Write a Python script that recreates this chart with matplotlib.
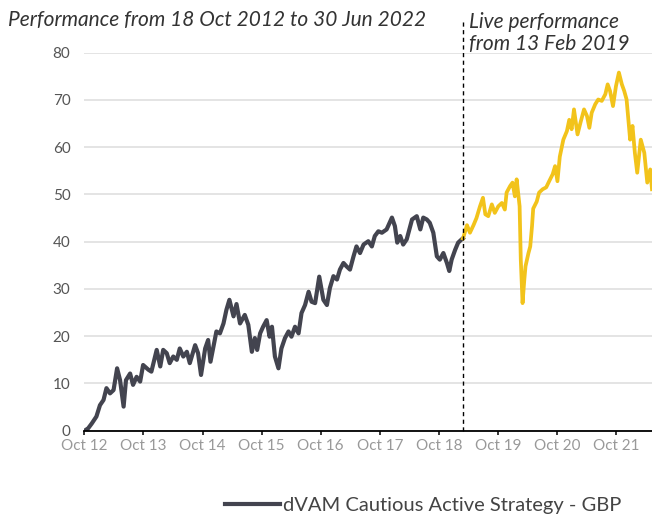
import matplotlib
matplotlib.use('Agg')
import matplotlib.pyplot as plt
from matplotlib.lines import Line2D

# Values (x in decimal years, y = cumulative performance %)
backtest_years = [
    2012.80, 2012.86, 2012.92, 2013.00, 2013.06, 2013.12, 2013.17, 2013.23, 2013.29, 2013.35,
    2013.40, 2013.46, 2013.50, 2013.57, 2013.62, 2013.68, 2013.74, 2013.79, 2013.88, 2013.93,
    2014.02, 2014.08, 2014.13, 2014.19, 2014.24, 2014.30, 2014.36, 2014.41, 2014.47, 2014.53,
    2014.58, 2014.67, 2014.72, 2014.77, 2014.84, 2014.89, 2014.93, 2014.98, 2015.03, 2015.09,
    2015.15, 2015.20, 2015.25, 2015.32, 2015.37, 2015.43, 2015.51, 2015.57, 2015.63, 2015.68,
    2015.72, 2015.77, 2015.82, 2015.88, 2015.93, 2015.97, 2016.02, 2016.08, 2016.13, 2016.19,
    2016.25, 2016.30, 2016.36, 2016.42, 2016.47, 2016.53, 2016.59, 2016.64, 2016.70, 2016.77,
    2016.84, 2016.90, 2016.95, 2017.01, 2017.07, 2017.12, 2017.18, 2017.23, 2017.29, 2017.35,
    2017.40, 2017.46, 2017.52, 2017.60, 2017.66, 2017.71, 2017.77, 2017.83, 2017.91, 2018.00,
    2018.05, 2018.09, 2018.14, 2018.19, 2018.25, 2018.34, 2018.42, 2018.48, 2018.53, 2018.59,
    2018.64, 2018.70, 2018.76, 2018.81, 2018.87, 2018.93, 2018.97, 2019.01, 2019.07, 2019.12,
    2019.18, 2019.20,
]
backtest_values = [
    0.0, 0.5, 1.5, 3.0, 5.4, 6.5, 9.0, 7.9, 8.6, 13.2,
    10.7, 5.1, 10.7, 12.1, 9.7, 11.4, 10.4, 13.9, 12.9, 12.5,
    17.1, 13.6, 17.1, 16.4, 14.3, 15.7, 15.0, 17.4, 15.7, 16.7,
    14.3, 18.1, 16.4, 11.8, 17.4, 19.2, 14.6, 17.8, 21.0, 20.6,
    22.7, 25.6, 27.7, 24.2, 26.8, 22.7, 24.5, 22.4, 16.7, 19.6,
    17.1, 20.6, 22.0, 23.4, 19.9, 22.0, 15.7, 13.2, 17.4, 19.6,
    21.0, 19.9, 22.0, 20.6, 24.9, 26.6, 29.4, 27.3, 27.0, 32.6,
    27.7, 26.6, 30.2, 32.7, 32.0, 34.1, 35.5, 34.8, 34.1, 36.9,
    39.0, 37.6, 39.4, 40.1, 39.0, 41.2, 42.2, 41.9, 42.6, 45.1,
    43.3, 39.8, 41.2, 39.4, 40.5, 44.7, 45.4, 42.6, 45.1, 44.7,
    44.0, 41.9, 36.9, 36.2, 37.6, 35.5, 33.8, 36.2, 38.3, 39.8,
    40.5, 40.7,
]

live_years = [
    2019.20, 2019.21, 2019.27, 2019.32, 2019.38, 2019.43, 2019.49, 2019.54, 2019.58, 2019.63,
    2019.69, 2019.74, 2019.80, 2019.86, 2019.91, 2019.94, 2020.00, 2020.04, 2020.08, 2020.11,
    2020.16, 2020.18, 2020.21, 2020.24, 2020.26, 2020.31, 2020.34, 2020.37, 2020.39, 2020.45,
    2020.49, 2020.55, 2020.61, 2020.66, 2020.72, 2020.76, 2020.80, 2020.84, 2020.90, 2020.96,
    2021.00, 2021.04, 2021.08, 2021.14, 2021.19, 2021.25, 2021.30, 2021.34, 2021.38, 2021.44,
    2021.49, 2021.55, 2021.61, 2021.65, 2021.69, 2021.74, 2021.79, 2021.84, 2021.89, 2021.93,
    2021.97, 2022.03, 2022.07, 2022.11, 2022.15, 2022.21, 2022.27, 2022.32, 2022.37, 2022.40,
]
live_values = [
    40.7, 41.0, 43.5, 41.9, 43.5, 45.0, 47.5, 49.3, 45.8, 45.4,
    47.9, 46.1, 47.5, 48.2, 46.8, 50.4, 51.8, 52.5, 49.6, 53.2,
    47.5, 36.2, 27.0, 32.0, 34.8, 37.6, 39.0, 43.3, 47.0, 48.5,
    50.4, 51.1, 51.5, 52.8, 54.3, 56.0, 52.8, 58.0, 61.6, 63.4,
    65.8, 63.8, 68.0, 62.7, 65.2, 68.0, 66.6, 64.1, 67.3, 69.1,
    70.1, 69.8, 71.2, 73.3, 71.9, 68.7, 72.9, 75.8, 73.3, 71.9,
    70.1, 61.6, 64.5, 58.8, 54.6, 61.6, 58.8, 52.5, 55.3, 51.1,
]

tick_years = [2012.795 + k for k in range(10)]
tick_labels = ['Oct 12', 'Oct 13', 'Oct 14', 'Oct 15', 'Oct 16',
               'Oct 17', 'Oct 18', 'Oct 19', 'Oct 20', 'Oct 21']
y_ticks = [0, 10, 20, 30, 40, 50, 60, 70, 80]
live_start = 2019.198

grey = '#43444f'
yellow = '#f2c31b'

plt.rcParams['font.family'] = ['Lato', 'DejaVu Sans']

fig = plt.figure(figsize=(6.52, 5.16), dpi=100)
ax = fig.add_axes([84.3 / 652, 1 - 430.7 / 516, 1 - 84.3 / 652, (430.7 - 52.7) / 516])

ax.plot(backtest_years, backtest_values, color=grey, lw=3.0, solid_joinstyle='round', zorder=3)
ax.plot(live_years, live_values, color=yellow, lw=2.7, solid_joinstyle='round', zorder=3)

# dashed separator between back-test and live, running up into the header
ax.plot([live_start, live_start], [0, 87], color='black', lw=1.0, ls=(0, (3, 2.5)),
        clip_on=False, zorder=4)

ax.set_xlim(2012.795, 2022.40)
ax.set_ylim(0, 80)
ax.set_xticks(tick_years)
ax.set_xticklabels(tick_labels)
ax.set_yticks(y_ticks)

for s in ['top', 'right', 'left']:
    ax.spines[s].set_visible(False)
ax.spines['bottom'].set_color('black')
ax.spines['bottom'].set_linewidth(1.3)
ax.spines['bottom'].set_zorder(5)

ax.grid(axis='y', color='#dcdcdc', lw=1.1)
ax.set_axisbelow(True)
ax.tick_params(axis='y', length=0, pad=10, labelsize=11, labelcolor='#555555')
ax.tick_params(axis='x', length=3.2, width=1.1, color='black', pad=2.5,
               labelsize=11, labelcolor='#999999')

fig.text(8 / 652, 1 - 25.7 / 516, 'Performance from 18 Oct 2012 to 30 Jun 2022',
         fontsize=15, style='italic', color='#333333', va='baseline', ha='left')
fig.text(469 / 652, 1 - 28.3 / 516, 'Live performance',
         fontsize=15, style='italic', color='#333333', va='baseline', ha='left')
fig.text(469 / 652, 1 - 50.5 / 516, 'from 13 Feb 2019',
         fontsize=15, style='italic', color='#333333', va='baseline', ha='left')

handle = Line2D([], [], color=grey, lw=3.0)
leg = fig.legend(handles=[handle], labels=['dVAM Cautious Active Strategy - GBP'],
                 loc='center left', bbox_to_anchor=(225 / 652, 1 - 505 / 516),
                 frameon=False, borderpad=0, borderaxespad=0, handlelength=2.75,
                 handletextpad=0.12, fontsize=14.5)
for t in leg.get_texts():
    t.set_color('#444444')

fig.savefig('out.png', dpi=100)
